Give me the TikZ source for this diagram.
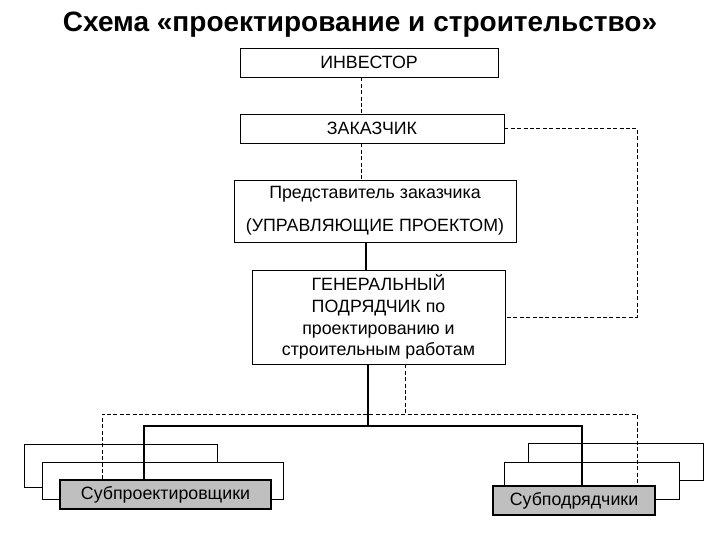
\documentclass[tikz,border=0pt]{standalone}
\usepackage{fontspec}
\setmainfont{Liberation Sans}
\usetikzlibrary{positioning}
\newcommand{\bodyFont}{\fontsize{8.9}{10.85}\selectfont}
\tikzset{
    box/.style={rectangle, draw, thin, fill=white, inner sep=0pt, font=\bodyFont},
    grayBox/.style={box, fill=gray!50, line width=0.6pt},
    solidLink/.style={line width=1pt},
    dashLink/.style={thin, dash pattern=on 2pt off 1.2pt},
}

\begin{document}
\begin{tikzpicture}[x=0.5pt, y=-0.5pt]
    \useasboundingbox (0,0) rectangle (720,540);

    \node[font=\bfseries\fontsize{14}{16}\selectfont] (title) at (360,25) {Схема «проектирование и строительство»};

    \node[box, minimum width=129pt, minimum height=14.5pt] (inv) at (369,62.5) {ИНВЕСТОР};
    \node[box, minimum width=132pt, minimum height=14.5pt] (zak) at (372,128.5) {ЗАКАЗЧИК};
    \node[box, minimum width=141pt, minimum height=31pt, align=center, font=\fontsize{8.9}{16.5}\selectfont] (rep) at (375,211) {Представитель заказчика\\(УПРАВЛЯЮЩИЕ ПРОЕКТОМ)};
    \node[box, minimum width=126.5pt, minimum height=47pt, align=center] (gen) at (378.5,317) {ГЕНЕРАЛЬНЫЙ\\ПОДРЯДЧИК по\\проектированию и\\строительным работам};

    % subcontractor stacks
    \node[box, minimum width=96.5pt, minimum height=21.5pt] (spBack) at (120.5,465.5) {};
    \node[box, minimum width=120.5pt, minimum height=18.5pt] (spMid) at (162.5,480.5) {};
    \node[grayBox, minimum width=105.5pt, minimum height=14.5pt] (sp) at (165.5,494.5) {Субпроектировщики};

    \node[box, minimum width=87.5pt, minimum height=18.5pt] (sdBack) at (615.5,461.5) {};
    \node[box, minimum width=87.5pt, minimum height=18.5pt] (sdMid) at (591.5,480.5) {};
    \node[grayBox, minimum width=81pt, minimum height=14.5pt] (sd) at (574,500.5) {Субподрядчики};

    \coordinate (busL) at (144,426);
    \coordinate (busR) at (582,426);
    \coordinate (dashL) at (102,414);
    \coordinate (dashR) at (637,414);

    \draw[dashLink] (inv.south -| 361,0) -- (zak.north -| 361,0);
    \draw[dashLink] (zak.south -| 361,0) -- (rep.north -| 361,0);
    \draw[solidLink] (rep.south -| 366,0) -- (gen.north -| 366,0);
    \draw[dashLink] (zak.east) -- ++(133,0) |- (gen.east);

    \draw[solidLink] (gen.south -| 368,0) -- (busL -| 368,0);
    \draw[solidLink] (sp.north -| busL) -- (busL) -- (busR) -- (sd.north -| busR);
    \draw[dashLink] (gen.south -| 405,0) -- (dashL -| 405,0);
    \draw[dashLink] (sp.north -| dashL) -- (dashL) -- (dashR) -- (sd.north -| dashR);

\end{tikzpicture}
\end{document}
